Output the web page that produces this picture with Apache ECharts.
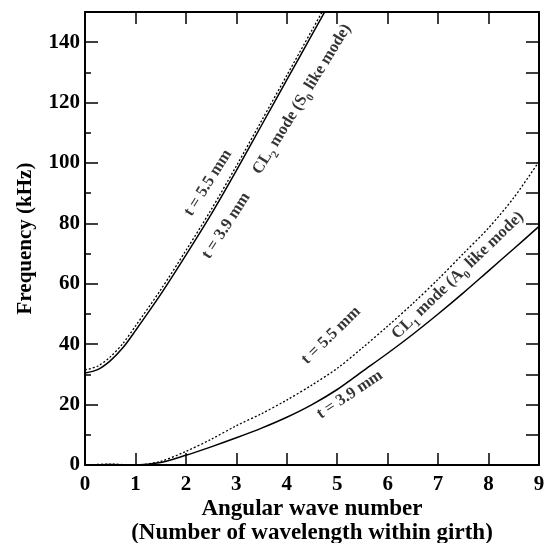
<!DOCTYPE html>
<html>
<head>
<meta charset="utf-8">
<script src="https://cdn.jsdelivr.net/npm/echarts@6/dist/echarts.min.js"></script>
<style>
  html, body { margin: 0; padding: 0; background: #fff; }
  #chart { width: 548px; height: 543px; }
</style>
</head>
<body>
<div id="chart"></div>
<script>
// Angular wave number samples
const waveCL2 = [0, 0.25, 0.5, 0.75, 1, 1.5, 2, 2.5, 3, 3.5, 4, 4.5, 5];
// CL2 mode (S0-like), frequency in kHz
const cl2Thin  = [30.5, 31.6, 34.5, 38.8, 44.5, 56.5, 69.5, 83, 97.5, 112.5, 127.5, 142.5, 157.5]; // t = 3.9 mm
const cl2Thick = [31.5, 32.7, 35.8, 40.2, 46, 58, 71, 84.5, 99, 114, 129, 144, 159];               // t = 5.5 mm

const waveCL1 = [0, 0.5, 1, 1.5, 2, 2.5, 3, 3.5, 4, 4.5, 5, 5.5, 6, 6.5, 7, 7.5, 8, 8.5, 9];
// CL1 mode (A0-like), frequency in kHz
const cl1Thin  = [0, 0.2, 0, 0.8, 3.2, 6, 9, 12.2, 15.8, 20, 25, 31, 37, 43.3, 50, 57, 64.3, 71.6, 79];            // t = 3.9 mm
const cl1Thick = [0, 0.3, 0, 1.2, 4.5, 8.5, 13, 17, 21.5, 26.5, 32, 38.8, 46, 53.5, 61.5, 70, 78.5, 88.5, 100.5]; // t = 5.5 mm

// Axis ticks
const xTicks = [0, 1, 2, 3, 4, 5, 6, 7, 8, 9];
const yTicks = [0, 20, 40, 60, 80, 100, 120, 140];

// Curve annotations: [x, y, rotation, rich text]
const notes = [
  [2.44, 93.4, 57.7, '{b|t = 5.5 mm}'],
  [2.80, 79.2, 57.0, '{b|t = 3.9 mm}'],
  [4.30, 121.1, 58.3, '{b|CL}{s|2}{b| mode (S}{s|0}{b| like mode)}'],
  [4.88, 42.9, 44.2, '{b|t = 5.5 mm}'],
  [5.25, 23.3, 33.7, '{b|t = 3.9 mm}'],
  [7.39, 62.8, 43.9, '{b|CL}{s|1}{b| mode (A}{s|0}{b| like mode)}']
];

const FONT = '"Liberation Serif", "Times New Roman", serif';
const zip = (xs, ys) => xs.map((x, i) => [x, ys[i]]);

const chart = echarts.init(document.getElementById('chart'), null, { renderer: 'canvas' });

const frameLine = { show: true, onZero: false, lineStyle: { color: '#000', width: 2 } };
const tickStyle = { color: '#000', width: 1.5 };

const option = {
  animation: false,
  backgroundColor: '#fff',
  grid: { left: 85, right: 9, top: 12, bottom: 78, containLabel: false, outerBoundsMode: 'none' },
  xAxis: [
    {
      type: 'value', min: 0, max: 9, interval: 1, position: 'bottom',
      name: 'Angular wave number\n(Number of wavelength within girth)',
      nameLocation: 'middle', nameGap: 32, nameMoveOverlap: false,
      nameTextStyle: { fontFamily: FONT, fontWeight: 'bold', fontSize: 23, color: '#000', lineHeight: 24 },
      axisLine: frameLine,
      axisTick: { show: true, inside: true, length: 12, lineStyle: tickStyle },
      axisLabel: { show: true, margin: 9, fontFamily: FONT, fontWeight: 'bold', fontSize: 21, color: '#000',
        formatter: v => xTicks.includes(v) ? String(v) : '' },
      splitLine: { show: false }
    },
    {
      type: 'value', min: 0, max: 9, interval: 1, position: 'top',
      axisLine: frameLine,
      axisTick: { show: true, inside: true, length: 12, lineStyle: tickStyle },
      axisLabel: { show: false },
      splitLine: { show: false }
    }
  ],
  yAxis: [
    {
      type: 'value', min: 0, max: 150, interval: 20, position: 'left',
      name: 'Frequency (kHz)', nameLocation: 'middle', nameGap: 49, nameMoveOverlap: false,
      nameTextStyle: { fontFamily: FONT, fontWeight: 'bold', fontSize: 21, color: '#000' },
      axisLine: frameLine,
      axisTick: { show: true, inside: true, length: 13, lineStyle: tickStyle },
      minorTick: { show: true, splitNumber: 2, length: 6, lineStyle: tickStyle },
      axisLabel: { show: true, margin: 5, fontFamily: FONT, fontWeight: 'bold', fontSize: 21, color: '#000',
        formatter: v => yTicks.includes(v) ? String(v) : '' },
      splitLine: { show: false }
    },
    {
      type: 'value', min: 0, max: 150, interval: 10, position: 'right',
      axisLine: frameLine,
      axisTick: { show: true, inside: true, length: 13, lineStyle: tickStyle },
      axisLabel: { show: false },
      splitLine: { show: false }
    }
  ],
  series: [
    { type: 'line', name: 'CL2 t=3.9', data: zip(waveCL2, cl2Thin), smooth: 0.3, symbol: 'none', clip: true,
      lineStyle: { color: '#000', width: 1.5, type: 'solid' } },
    { type: 'line', name: 'CL2 t=5.5', data: zip(waveCL2, cl2Thick), smooth: 0.3, symbol: 'none', clip: true,
      lineStyle: { color: '#000', width: 1.3, type: [2, 2] } },
    { type: 'line', name: 'CL1 t=3.9', data: zip(waveCL1, cl1Thin), smooth: 0.3, symbol: 'none', clip: true,
      lineStyle: { color: '#000', width: 1.5, type: 'solid' } },
    { type: 'line', name: 'CL1 t=5.5', data: zip(waveCL1, cl1Thick), smooth: 0.3, symbol: 'none', clip: true,
      lineStyle: { color: '#000', width: 1.3, type: [2, 2] } },
    {
      type: 'scatter', symbolSize: 0, silent: true,
      data: notes.map(n => ({
        value: [n[0], n[1]],
        label: {
          show: true, position: 'inside', rotate: n[2], formatter: n[3],
          rich: {
            b: { fontFamily: FONT, fontWeight: 'bold', fontSize: 16.5, color: '#000', lineHeight: 24, verticalAlign: 'middle' },
            s: { fontFamily: FONT, fontWeight: 'bold', fontSize: 11, color: '#000', lineHeight: 11, verticalAlign: 'bottom' }
          }
        }
      }))
    }
  ]
};

chart.setOption(option);
</script>
</body>
</html>
